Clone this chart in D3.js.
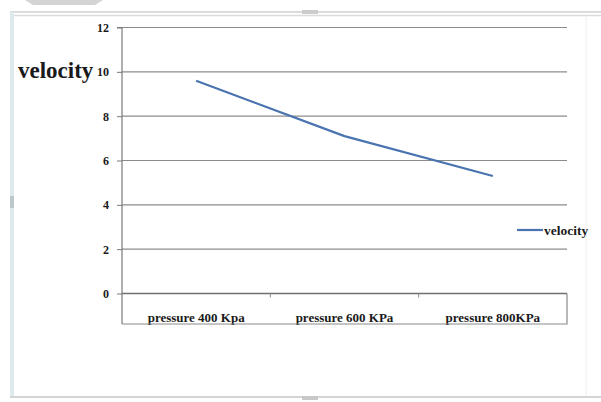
<!DOCTYPE html>
<html>
<head>
<meta charset="utf-8">
<script src="https://cdn.jsdelivr.net/npm/d3@7"></script>
<style>
  html, body { margin: 0; padding: 0; background: #fff; }
  svg { display: block; }
  text { font-family: "Liberation Serif", "Times New Roman", serif; font-weight: bold; fill: #1a1a1a; }
</style>
</head>
<body>
<script>
// Chart data
const categories = ["pressure 400 Kpa", "pressure 600 KPa", "pressure 800KPa"];
const velocity = [9.6, 7.1, 5.3];
const yTicks = [0, 2, 4, 6, 8, 10, 12];
const seriesName = "velocity";
const axisTitle = "velocity";

const W = 601, H = 402;
const plot = { left: 122, right: 567, top: 27.5, bottom: 293.5, boxBottom: 324 };

const svg = d3.select("body").append("svg").attr("width", W).attr("height", H);

// Window frame around the chart object
svg.append("path").attr("d", "M25,0 L103,0 L95,5 L33,5 Z").attr("fill", "#d4d4d4");
svg.append("line").attr("x1", 10).attr("x2", W).attr("y1", 12).attr("y2", 12).attr("stroke", "#cfcfcf").attr("stroke-width", 1.5);
svg.append("line").attr("x1", 10).attr("x2", W).attr("y1", 15.5).attr("y2", 15.5).attr("stroke", "#dcdcdc").attr("stroke-width", 1.5);
svg.append("rect").attr("x", 10).attr("y", 12).attr("width", 4).attr("height", 386).attr("fill", "#dde9ea");
svg.append("line").attr("x1", 10).attr("x2", W).attr("y1", 397).attr("y2", 397).attr("stroke", "#d4d4d4").attr("stroke-width", 2);
svg.append("line").attr("x1", 586).attr("x2", 586).attr("y1", 16).attr("y2", 396).attr("stroke", "#f0f0f0").attr("stroke-width", 1);
svg.append("rect").attr("x", 302).attr("y", 10).attr("width", 16).attr("height", 4).attr("fill", "#cccccc");
svg.append("rect").attr("x", 302).attr("y", 396).attr("width", 16).attr("height", 4).attr("fill", "#c8c8c8");
svg.append("rect").attr("x", 10).attr("y", 196).attr("width", 4).attr("height", 12).attr("fill", "#bcc8c9");

// Scales
const x = d3.scaleBand().domain(categories).range([plot.left, plot.right]).paddingInner(0).paddingOuter(0);
const y = d3.scaleLinear().domain([0, 12]).range([plot.bottom, plot.top]);

// Horizontal gridlines
svg.append("g").selectAll("line").data(yTicks.filter(d => d > 0)).join("line")
  .attr("x1", plot.left).attr("x2", plot.right)
  .attr("y1", d => y(d)).attr("y2", d => y(d))
  .attr("stroke", "#8c8c8c").attr("stroke-width", 1.2);

// Value axis
const yAxis = d3.axisLeft(y).tickValues(yTicks).tickSize(5).tickPadding(8).tickFormat(d3.format("d"));
const gy = svg.append("g").attr("transform", `translate(${plot.left},0)`).call(yAxis);
gy.select(".domain").attr("stroke", "#7a7a7a").attr("stroke-width", 1.2).attr("d", `M-5,${plot.top}H0V${plot.boxBottom}`);
gy.selectAll(".tick line").attr("stroke", "#7a7a7a");
gy.selectAll(".tick text").attr("font-size", 12).attr("font-family", "Liberation Serif").attr("font-weight", "bold").attr("fill", "#1a1a1a");

// Category axis with a boxed label band
const xAxis = d3.axisBottom(x).tickSize(0).tickPadding(19);
const gx = svg.append("g").attr("transform", `translate(0,${plot.bottom})`).call(xAxis);
gx.select(".domain").attr("stroke", "#6f6f6f").attr("stroke-width", 1.5).attr("d", `M${plot.left},0H${plot.right}`);
gx.selectAll(".tick text").attr("font-size", 13).attr("font-family", "Liberation Serif").attr("font-weight", "bold").attr("fill", "#1a1a1a");
svg.append("path")
  .attr("d", `M${plot.left},${plot.boxBottom}H${plot.right}V${plot.bottom}`)
  .attr("fill", "none").attr("stroke", "#8a8a8a").attr("stroke-width", 1.2);
svg.append("g").selectAll("line").data(categories.slice(1)).join("line")
  .attr("x1", d => x(d)).attr("x2", d => x(d))
  .attr("y1", plot.bottom).attr("y2", plot.bottom + 4)
  .attr("stroke", "#8a8a8a");

// Axis title
svg.append("text").attr("x", 18).attr("y", 78).attr("font-size", 23).text(axisTitle);

// Series line
const line = d3.line().x((d, i) => x(categories[i]) + x.bandwidth() / 2).y(d => y(d));
svg.append("path").datum(velocity).attr("d", line)
  .attr("fill", "none").attr("stroke", "#4a74b0").attr("stroke-width", 2.2).attr("stroke-linejoin", "round");

// Legend
const lg = svg.append("g").attr("transform", "translate(517,230)");
lg.append("line").attr("x1", 0).attr("x2", 26).attr("y1", 0).attr("y2", 0).attr("stroke", "#4a74b0").attr("stroke-width", 2.2);
lg.append("text").attr("x", 27).attr("y", 4.5).attr("font-size", 13.5).text(seriesName);
</script>
</body>
</html>
